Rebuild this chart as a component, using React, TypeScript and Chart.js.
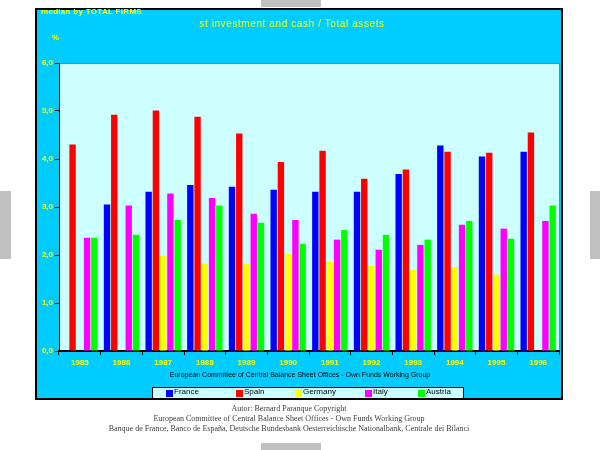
import React, { useEffect, useRef } from "react";
import { Chart, registerables } from "chart.js";

Chart.register(...registerables);

const years = ["1985", "1986", "1987", "1988", "1989", "1990", "1991", "1992", "1993", "1994", "1995", "1996"];
const seriesNames = ["France", "Spain", "Germany", "Italy", "Austria"];
const seriesColors = ["#0000FF", "#FF0000", "#FFFF00", "#FF00FF", "#00FF00"];
const france = [null, 3.05, 3.32, 3.46, 3.42, 3.36, 3.32, 3.32, 3.69, 4.28, 4.05, 4.15];
const spain = [4.3, 4.92, 5.01, 4.88, 4.53, 3.94, 4.17, 3.59, 3.78, 4.15, 4.13, 4.55];
const germany = [null, null, 1.98, 1.82, 1.82, 2.02, 1.86, 1.77, 1.69, 1.75, 1.59, null];
const italy = [2.36, 3.03, 3.28, 3.19, 2.86, 2.73, 2.32, 2.11, 2.21, 2.63, 2.55, 2.71];
const austria = [2.36, 2.42, 2.73, 3.03, 2.67, 2.23, 2.52, 2.42, 2.32, 2.71, 2.34, 3.03];
const yMin = 0;
const yMax = 6;
const yStep = 1;

const chartTitle = "st investment and cash / Total assets";
const subTitle = "median by TOTAL FIRMS";
const unitLabel = "%";
const caption = "European Committee of Central Balance Sheet Offices - Own Funds Working Group";
const footerLines = [
  "Autor: Bernard Paranque Copyright",
  "European Committee of Central Balance Sheet Offices - Own Funds Working Group",
  "Banque de France, Banco de España, Deutsche Bundesbank Oesterreichische Nationalbank, Centrale dei Bilanci",
];

const legendX = [13, 83, 142, 212, 265];

const plotBgPlugin = {
  id: "plotBg",
  beforeDraw(chart: any) {
    const { ctx, chartArea } = chart;
    if (!chartArea) return;
    ctx.save();
    ctx.fillStyle = "#CCFFFF";
    ctx.fillRect(chartArea.left, chartArea.top, chartArea.right - chartArea.left, chartArea.bottom - chartArea.top);
    ctx.strokeStyle = "#808080";
    ctx.lineWidth = 1;
    ctx.beginPath();
    ctx.moveTo(chartArea.left, chartArea.top + 0.5);
    ctx.lineTo(chartArea.right + 0.5, chartArea.top + 0.5);
    ctx.lineTo(chartArea.right + 0.5, chartArea.bottom);
    ctx.stroke();
    ctx.restore();
  },
};

export default function App() {
  const canvasRef = useRef<HTMLCanvasElement | null>(null);

  useEffect(() => {
    if (!canvasRef.current) return;
    const data = [france, spain, germany, italy, austria];
    const chart = new Chart(canvasRef.current, {
      type: "bar",
      data: {
        labels: years,
        datasets: seriesNames.map((name, i) => ({
          label: name,
          data: data[i] as any,
          backgroundColor: seriesColors[i],
          borderWidth: 0,
          categoryPercentage: 0.87,
          barPercentage: 0.88,
        })),
      },
      options: {
        animation: false,
        responsive: false,
        maintainAspectRatio: false,
        layout: { padding: { left: 0, right: 2, top: 53, bottom: 27 } },
        plugins: {
          legend: { display: false },
          title: { display: false },
          tooltip: { enabled: false },
        },
        scales: {
          x: {
            afterFit: (s: any) => {
              s.height = 20;
            },
            grid: { drawOnChartArea: false, drawTicks: true, tickLength: 4, color: "#000000", offset: true },
            border: { color: "#000000", width: 2 },
            ticks: {
              color: "#FFFF00",
              font: { family: "Liberation Sans", size: 8, weight: "bold" },
              padding: 3,
              maxRotation: 0,
            },
          },
          y: {
            min: yMin,
            max: yMax,
            afterFit: (s: any) => {
              s.width = 22;
            },
            grid: { drawOnChartArea: false, drawTicks: true, tickLength: 4, color: "#000000" },
            border: { color: "#000000", width: 1 },
            ticks: {
              stepSize: yStep,
              color: "#FFFF00",
              font: { family: "Liberation Sans", size: 8, weight: "bold" },
              padding: 2,
              callback: (v: any) => Number(v).toFixed(1).replace(".", ","),
            },
          },
        },
      },
      plugins: [plotBgPlugin],
    });
    return () => chart.destroy();
  }, []);

  const gray = "#C0C0C0";
  return (
    <div style={{ position: "fixed", left: 0, top: 0, width: 600, height: 450, background: "#FFFFFF", overflow: "hidden" }}>
      <div style={{ position: "absolute", left: 261, top: 0, width: 60, height: 7, background: gray }} />
      <div style={{ position: "absolute", left: 261, top: 443, width: 60, height: 7, background: gray }} />
      <div style={{ position: "absolute", left: 0, top: 191, width: 11, height: 68, background: gray }} />
      <div style={{ position: "absolute", left: 590, top: 191, width: 10, height: 68, background: gray }} />

      <div
        style={{
          position: "absolute",
          left: 35,
          top: 8,
          width: 528,
          height: 392,
          boxSizing: "border-box",
          border: "2px solid #000000",
          background: "#00CCFF",
        }}
      />
      <canvas
        ref={canvasRef}
        width={524}
        height={388}
        style={{ position: "absolute", left: 37, top: 10, width: 524, height: 388 }}
      />

      <div
        style={{
          position: "absolute",
          left: 41,
          top: 7,
          color: "#FFFF00",
          font: "bold 8px 'Liberation Sans'",
          letterSpacing: "0.3px",
          whiteSpace: "nowrap",
        }}
      >
        {subTitle}
      </div>
      <div
        style={{
          position: "absolute",
          left: 292,
          top: 18,
          transform: "translateX(-50%)",
          color: "#FFFF00",
          font: "10px 'Liberation Sans'",
          letterSpacing: "0.6px",
          whiteSpace: "nowrap",
        }}
      >
        {chartTitle}
      </div>
      <div
        style={{
          position: "absolute",
          left: 52,
          top: 33,
          color: "#FFFF00",
          font: "bold 8px 'Liberation Sans'",
        }}
      >
        {unitLabel}
      </div>
      <div
        style={{
          position: "absolute",
          left: 300,
          top: 371,
          transform: "translateX(-50%)",
          color: "#000000",
          font: "7px 'Liberation Sans'",
          whiteSpace: "nowrap",
        }}
      >
        {caption}
      </div>

      <div
        style={{
          position: "absolute",
          left: 152,
          top: 387,
          width: 312,
          height: 12,
          boxSizing: "border-box",
          border: "1.5px solid #000000",
          background: "#CCFFFF",
        }}
      >
        {seriesNames.map((name, i) => (
          <div key={name} style={{ position: "absolute", left: legendX[i], top: 0, height: 10, whiteSpace: "nowrap" }}>
            <span
              style={{
                position: "absolute",
                left: 0,
                top: 2,
                width: 7,
                height: 7,
                background: seriesColors[i],
              }}
            />
            <span
              style={{
                position: "absolute",
                left: 8,
                top: -1,
                font: "8px 'Liberation Sans'",
                color: "#000000",
              }}
            >
              {name}
            </span>
          </div>
        ))}
      </div>

      {footerLines.map((line, i) => (
        <div
          key={i}
          style={{
            position: "absolute",
            left: 289,
            top: 403 + i * 10,
            transform: "translateX(-50%)",
            color: "#404040",
            font: "8px 'Liberation Serif'",
            whiteSpace: "nowrap",
            lineHeight: "12px",
          }}
        >
          {line}
        </div>
      ))}
    </div>
  );
}
